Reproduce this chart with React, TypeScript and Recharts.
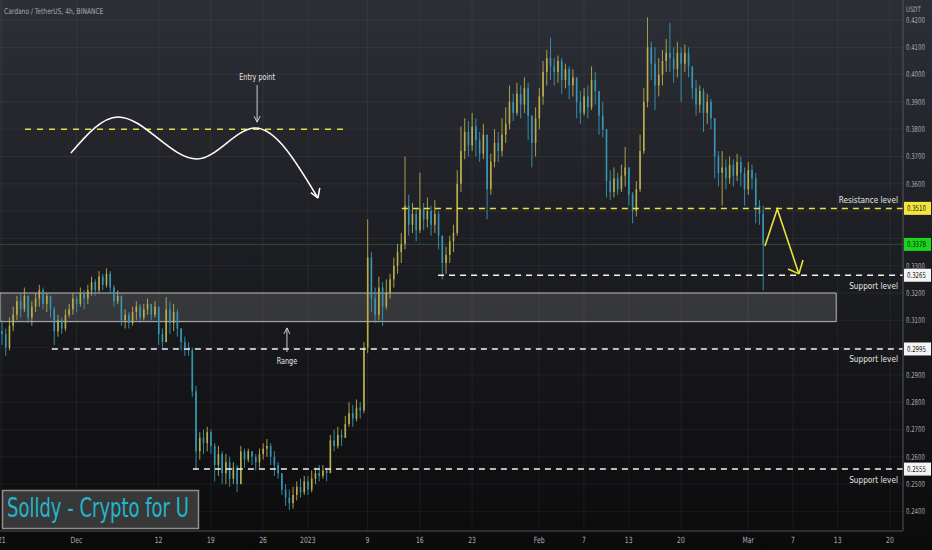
import React from "react";
import {
  ComposedChart,
  Bar,
  Line,
  XAxis,
  YAxis,
  CartesianGrid,
  ReferenceLine,
  ReferenceArea,
} from "recharts";

const W = 932;
const H = 550;
const FONT = "'DejaVu Sans Condensed', 'DejaVu Sans', sans-serif";
const UP = "#b9ad4c";
const DOWN = "#3896b5";
const YELLOW = "#e9e43a";
const MUTED = "#a6a9b0";

// ADA/USDT, one candle per 12h slot (slot 0 = 21 Nov)
const firstOpen = 0.306;
const closes = [
  0.305, 0.300, 0.308, 0.312, 0.317, 0.314, 0.319, 0.311, 0.315, 0.318,
  0.321, 0.316, 0.319, 0.314, 0.306, 0.310, 0.307, 0.312, 0.314, 0.318,
  0.316, 0.320, 0.318, 0.321, 0.324, 0.321, 0.326, 0.323, 0.327, 0.322,
  0.317, 0.319, 0.310, 0.312, 0.309, 0.313, 0.315, 0.311, 0.314, 0.316,
  0.312, 0.315, 0.305, 0.302, 0.314, 0.309, 0.313, 0.307, 0.302, 0.300,
  0.299, 0.284, 0.262, 0.267, 0.265, 0.269, 0.264, 0.257, 0.261, 0.254,
  0.258, 0.252, 0.256, 0.250, 0.262, 0.259, 0.262, 0.260, 0.258, 0.261,
  0.263, 0.264, 0.260, 0.257, 0.254, 0.248, 0.245, 0.243, 0.246, 0.249,
  0.247, 0.251, 0.248, 0.252, 0.254, 0.253, 0.255, 0.254, 0.266, 0.264,
  0.268, 0.267, 0.272, 0.276, 0.274, 0.278, 0.277, 0.300, 0.333, 0.318,
  0.312, 0.322, 0.315, 0.320, 0.325, 0.330, 0.335, 0.338, 0.352, 0.345,
  0.349, 0.343, 0.351, 0.347, 0.350, 0.345, 0.349, 0.341, 0.331, 0.334,
  0.339, 0.342, 0.360, 0.372, 0.379, 0.374, 0.381, 0.376, 0.371, 0.378,
  0.358, 0.368, 0.375, 0.372, 0.378, 0.382, 0.390, 0.386, 0.393, 0.389,
  0.395, 0.385, 0.375, 0.384, 0.392, 0.401, 0.406, 0.403, 0.401, 0.405,
  0.398, 0.402, 0.396, 0.399, 0.390, 0.386, 0.392, 0.388, 0.398, 0.394,
  0.385, 0.380, 0.361, 0.357, 0.362, 0.358, 0.363, 0.366, 0.356, 0.350,
  0.358, 0.372, 0.390, 0.410, 0.404, 0.396, 0.400, 0.405, 0.408, 0.406,
  0.402, 0.408, 0.404, 0.408, 0.403, 0.395, 0.389, 0.394, 0.386, 0.390,
  0.384, 0.370, 0.364, 0.366, 0.362, 0.367, 0.363, 0.368, 0.364, 0.358,
  0.365, 0.362, 0.352, 0.349, 0.3378,
];
const highs = [
  0.310, 0.307, 0.311, 0.315, 0.319, 0.320, 0.322, 0.318, 0.317, 0.320,
  0.323, 0.322, 0.320, 0.319, 0.315, 0.312, 0.311, 0.314, 0.316, 0.320,
  0.319, 0.322, 0.321, 0.323, 0.326, 0.325, 0.328, 0.327, 0.329, 0.328,
  0.323, 0.321, 0.318, 0.314, 0.313, 0.315, 0.317, 0.316, 0.316, 0.318,
  0.316, 0.317, 0.314, 0.307, 0.3185, 0.317, 0.316, 0.314, 0.307, 0.304,
  0.302, 0.300, 0.286, 0.269, 0.270, 0.271, 0.270, 0.265, 0.264, 0.262,
  0.261, 0.260, 0.258, 0.257, 0.264, 0.263, 0.263, 0.262, 0.261, 0.263,
  0.265, 0.2665, 0.265, 0.262, 0.258, 0.254, 0.250, 0.248, 0.249, 0.251,
  0.252, 0.253, 0.253, 0.255, 0.256, 0.257, 0.257, 0.256, 0.268, 0.270,
  0.271, 0.270, 0.275, 0.280, 0.279, 0.281, 0.280, 0.302, 0.347, 0.335,
  0.322, 0.326, 0.324, 0.325, 0.327, 0.333, 0.338, 0.342, 0.370, 0.356,
  0.353, 0.351, 0.364, 0.353, 0.355, 0.352, 0.354, 0.350, 0.341, 0.337,
  0.341, 0.345, 0.365, 0.381, 0.384, 0.383, 0.386, 0.384, 0.379, 0.382,
  0.375, 0.371, 0.380, 0.379, 0.384, 0.388, 0.396, 0.393, 0.397, 0.396,
  0.399, 0.397, 0.385, 0.388, 0.395, 0.405, 0.409, 0.4135, 0.406, 0.407,
  0.406, 0.404, 0.403, 0.402, 0.397, 0.394, 0.395, 0.396, 0.403, 0.401,
  0.392, 0.390, 0.380, 0.365, 0.366, 0.364, 0.367, 0.3735, 0.362, 0.357,
  0.361, 0.378, 0.395, 0.421, 0.412, 0.410, 0.406, 0.409, 0.413, 0.419,
  0.410, 0.412, 0.410, 0.411, 0.410, 0.402, 0.398, 0.396, 0.395, 0.393,
  0.391, 0.384, 0.372, 0.372, 0.369, 0.370, 0.369, 0.371, 0.370, 0.366,
  0.368, 0.367, 0.364, 0.354, 0.352,
];
const lows = [
  0.301, 0.297, 0.299, 0.306, 0.310, 0.311, 0.313, 0.309, 0.308, 0.313,
  0.315, 0.314, 0.313, 0.311, 0.301, 0.304, 0.305, 0.306, 0.311, 0.312,
  0.313, 0.315, 0.314, 0.316, 0.319, 0.319, 0.320, 0.321, 0.322, 0.320,
  0.315, 0.316, 0.308, 0.307, 0.307, 0.308, 0.310, 0.309, 0.310, 0.312,
  0.310, 0.311, 0.301, 0.300, 0.302, 0.305, 0.306, 0.304, 0.299, 0.297,
  0.297, 0.282, 0.2555, 0.259, 0.261, 0.262, 0.261, 0.251, 0.253, 0.250,
  0.250, 0.249, 0.250, 0.247, 0.252, 0.256, 0.258, 0.257, 0.255, 0.256,
  0.259, 0.260, 0.257, 0.253, 0.252, 0.246, 0.242, 0.2405, 0.241, 0.244,
  0.245, 0.246, 0.246, 0.247, 0.250, 0.251, 0.252, 0.251, 0.254, 0.262,
  0.263, 0.264, 0.267, 0.271, 0.271, 0.273, 0.274, 0.276, 0.298, 0.313,
  0.309, 0.310, 0.308, 0.314, 0.318, 0.322, 0.327, 0.331, 0.336, 0.341,
  0.342, 0.339, 0.342, 0.343, 0.344, 0.341, 0.342, 0.336, 0.325, 0.327,
  0.331, 0.335, 0.341, 0.357, 0.369, 0.370, 0.372, 0.370, 0.368, 0.369,
  0.347, 0.356, 0.366, 0.368, 0.370, 0.375, 0.380, 0.383, 0.385, 0.384,
  0.386, 0.376, 0.366, 0.370, 0.380, 0.389, 0.396, 0.398, 0.396, 0.397,
  0.393, 0.395, 0.391, 0.392, 0.384, 0.382, 0.385, 0.384, 0.387, 0.389,
  0.378, 0.377, 0.355, 0.354, 0.355, 0.356, 0.357, 0.359, 0.352, 0.3455,
  0.348, 0.357, 0.371, 0.388, 0.398, 0.387, 0.392, 0.396, 0.401, 0.401,
  0.397, 0.399, 0.390, 0.401, 0.399, 0.391, 0.385, 0.386, 0.379, 0.382,
  0.380, 0.362, 0.359, 0.352, 0.358, 0.360, 0.359, 0.361, 0.359, 0.352,
  0.356, 0.358, 0.3455, 0.345, 0.321,
];

// time axis: 242 half-day slots (21 Nov .. 22 Mar)
const slotCount = 242;
const tickSlots = [0, 20, 42, 56, 70, 82, 98, 112, 126, 144, 156, 168, 182, 200, 212, 224, 238];
const tickLabels = ["21", "Dec", "12", "19", "26", "2023", "9", "16", "23", "Feb", "7", "13", "20", "Mar", "7", "13", "20"];

const yMin = 0.23282;
const yMax = 0.42733;
// labelled prices (the ones hidden behind the level tags are left out)
const priceTicks = [0.24, 0.25, 0.26, 0.27, 0.28, 0.29, 0.31, 0.32, 0.33, 0.36, 0.37, 0.38, 0.39, 0.40, 0.41, 0.42];
const gridPrices = [0.24, 0.25, 0.26, 0.27, 0.28, 0.29, 0.30, 0.31, 0.32, 0.33, 0.34, 0.35, 0.36, 0.37, 0.38, 0.39, 0.40, 0.41, 0.42];

// drawn levels: price, slot where the line starts, caption
const levelPrices = [0.351, 0.3265, 0.2995, 0.2555];
const levelStarts = [107.2, 116.9, 13.4, 51.2];
const levelNames = ["Resistance level", "Support level", "Support level", "Support level"];
const lastPrice = 0.3378;

// range box
const rangeLow = 0.3095;
const rangeHigh = 0.32;
const rangeEnd = 223.6;

// hand drawn sketch (slot, price)
const entryLevel = 0.38;
const entrySpan = [6.2, 92];
const wavePoints = [
  { i: 18.5, v: 0.3713 },
  { i: 31.1, v: 0.3845 },
  { i: 52.3, v: 0.3691 },
  { i: 67.9, v: 0.3804 },
  { i: 84.7, v: 0.3548 },
];
const waveHead = [{ i: 82.8, v: 0.3568 }, { i: 85.2, v: 0.3585 }];
const zigzagPoints = [
  { i: 204.5, v: 0.3372 },
  { i: 207.8, v: 0.3508 },
  { i: 213.6, v: 0.327 },
];
const zigzagHead = [{ i: 210.7, v: 0.3288 }, { i: 214.7, v: 0.3321 }];
const entryArrow = { i: 68.4, from: 0.3962, to: 0.3826 };
const rangeArrow = { i: 76.4, from: 0.2984, to: 0.3072 };

const rows = Array.from({ length: slotCount }, (_, i) => {
  if (i >= closes.length) return { i };
  const o = i === 0 ? firstOpen : closes[i - 1];
  const c = closes[i];
  return { i, o, c, h: Math.max(highs[i], o, c), l: Math.min(lows[i], o, c) };
});

// text squeezed horizontally, the screenshot uses a narrow face
function Narrow({ x, y, sx, size, fill, anchor = "start", children }: any) {
  return (
    <text
      transform={`translate(${x},${y}) scale(${sx},1)`}
      textAnchor={anchor}
      fontSize={size}
      fill={fill}
      fontFamily={FONT}
    >
      {children}
    </text>
  );
}

function Candle(props: any) {
  const { x, y, width, height, payload } = props;
  if (!payload || payload.h == null) return null;
  const { o, c, h, l } = payload;
  const k = h > l ? height / (h - l) : 0;
  const cx = x + width / 2;
  const top = y + (h - Math.max(o, c)) * k;
  const bot = y + (h - Math.min(o, c)) * k;
  const color = c >= o ? UP : DOWN;
  return (
    <g>
      <line x1={cx} x2={cx} y1={y} y2={y + height} stroke={color} strokeWidth={0.9} />
      <rect x={cx - 0.8} y={top} width={1.6} height={Math.max(bot - top, 0.8)} fill={color} />
    </g>
  );
}

function XTick(p: any) {
  const label = tickLabels[tickSlots.indexOf(p.payload.value)] ?? "";
  return <Narrow x={p.x} y={p.y + 6.5} sx={0.8} size={8.5} fill={MUTED} anchor="middle">{label}</Narrow>;
}

function YTick(p: any) {
  return <Narrow x={p.x} y={p.y + 2.8} sx={0.75} size={8} fill={MUTED}>{Number(p.payload.value).toFixed(4)}</Narrow>;
}

function priceTag(value: number, bg: string, name?: string, above?: boolean) {
  return (p: any) => {
    const vb = p.viewBox;
    if (!vb) return null;
    const right = vb.x + vb.width;
    const y = vb.y;
    return (
      <g>
        {name && (
          <Narrow x={right - 5} y={above ? y - 5.5 : y + 13.5} sx={0.86} size={9.5} fill="#e6e6e6" anchor="end">
            {name}
          </Narrow>
        )}
        <rect x={right + 1} y={y - 6.5} width={27} height={13} fill={bg} />
        <Narrow x={right + 4} y={y + 3} sx={0.75} size={8} fill="#151515">{value.toFixed(4)}</Narrow>
      </g>
    );
  };
}

function arrowText(text: string, below: boolean) {
  return (p: any) => {
    const vb = p.viewBox;
    if (!vb) return null;
    return (
      <Narrow x={vb.x} y={below ? vb.y + vb.height + 12 : vb.y - 5} sx={0.8} size={9} fill="#e6e6e6" anchor="middle">
        {text}
      </Narrow>
    );
  };
}

export default function App() {
  return (
    <div
      style={{
        position: "absolute",
        left: 0,
        top: 0,
        width: W,
        height: H,
        overflow: "hidden",
        background: "linear-gradient(to bottom, #2d2f37 0%, #1d1e23 45%, #0c0c0d 97%, #0a0a0a 100%)",
      }}
    >
      <ComposedChart width={W} height={H} data={rows} margin={{ top: 0, right: 0, bottom: 0, left: 0 }}>
        <CartesianGrid stroke="rgba(255,255,255,0.055)" horizontalValues={gridPrices} />
        <XAxis
          dataKey="i"
          type="category"
          ticks={tickSlots}
          interval={0}
          height={19}
          tickSize={0}
          tickMargin={5}
          tick={XTick}
          axisLine={{ stroke: "#4e5056" }}
        />
        <XAxis xAxisId="n" dataKey="i" type="number" domain={[-0.5, slotCount - 0.5]} allowDataOverflow hide />
        <YAxis
          orientation="right"
          type="number"
          domain={[yMin, yMax]}
          allowDataOverflow
          ticks={priceTicks}
          width={29}
          tickSize={0}
          tickMargin={3}
          tick={YTick}
          axisLine={{ stroke: "#4e5056" }}
        />

        <ReferenceArea
          xAxisId="n"
          x1={-0.5}
          x2={rangeEnd}
          y1={rangeLow}
          y2={rangeHigh}
          fill="#ffffff"
          fillOpacity={0.13}
          stroke="#b9b9b9"
          strokeWidth={1}
        />

        <Bar dataKey={(d: any) => (d.h == null ? undefined : [d.l, d.h])} barSize={2} shape={Candle} isAnimationActive={false} />

        <ReferenceLine y={lastPrice} stroke="rgba(70,190,80,0.3)" strokeWidth={1} label={priceTag(lastPrice, "#19d61c")} />
        {levelPrices.map((p, n) => (
          <ReferenceLine
            key={n}
            xAxisId="n"
            segment={[{ x: levelStarts[n], y: p }, { x: slotCount - 0.5, y: p }]}
            stroke={n === 0 ? YELLOW : "#f2f2f2"}
            strokeWidth={1.5}
            strokeDasharray="6 5"
            label={priceTag(p, n === 0 ? "#f3e53c" : "#f4f4f4", levelNames[n], n === 0)}
          />
        ))}

        <ReferenceLine
          xAxisId="n"
          segment={[{ x: entrySpan[0], y: entryLevel }, { x: entrySpan[1], y: entryLevel }]}
          stroke="#dfe23a"
          strokeWidth={1.6}
          strokeDasharray="6 6"
        />

        <Line
          xAxisId="n"
          data={wavePoints}
          dataKey="v"
          type="monotone"
          stroke="#ffffff"
          strokeWidth={1.5}
          dot={false}
          activeDot={false}
          isAnimationActive={false}
        />
        {waveHead.map((pt, n) => (
          <ReferenceLine
            key={"wh" + n}
            xAxisId="n"
            segment={[{ x: pt.i, y: pt.v }, { x: wavePoints[4].i, y: wavePoints[4].v }]}
            stroke="#ffffff"
            strokeWidth={1.5}
          />
        ))}

        <Line
          xAxisId="n"
          data={zigzagPoints}
          dataKey="v"
          type="linear"
          stroke={YELLOW}
          strokeWidth={1.6}
          dot={false}
          activeDot={false}
          isAnimationActive={false}
        />
        {zigzagHead.map((pt, n) => (
          <ReferenceLine
            key={"zh" + n}
            xAxisId="n"
            segment={[{ x: pt.i, y: pt.v }, { x: zigzagPoints[2].i, y: zigzagPoints[2].v }]}
            stroke={YELLOW}
            strokeWidth={1.6}
          />
        ))}

        <ReferenceLine
          xAxisId="n"
          segment={[{ x: entryArrow.i, y: entryArrow.from }, { x: entryArrow.i, y: entryArrow.to }]}
          stroke="#e0e0e0"
          strokeWidth={0.9}
          label={arrowText("Entry point", false)}
        />
        <ReferenceLine xAxisId="n" segment={[{ x: entryArrow.i - 0.8, y: entryArrow.to + 0.0022 }, { x: entryArrow.i, y: entryArrow.to }]} stroke="#e0e0e0" strokeWidth={0.9} />
        <ReferenceLine xAxisId="n" segment={[{ x: entryArrow.i + 0.8, y: entryArrow.to + 0.0022 }, { x: entryArrow.i, y: entryArrow.to }]} stroke="#e0e0e0" strokeWidth={0.9} />

        <ReferenceLine
          xAxisId="n"
          segment={[{ x: rangeArrow.i, y: rangeArrow.from }, { x: rangeArrow.i, y: rangeArrow.to }]}
          stroke="#e0e0e0"
          strokeWidth={0.9}
          label={arrowText("Range", true)}
        />
        <ReferenceLine xAxisId="n" segment={[{ x: rangeArrow.i - 0.8, y: rangeArrow.to - 0.0022 }, { x: rangeArrow.i, y: rangeArrow.to }]} stroke="#e0e0e0" strokeWidth={0.9} />
        <ReferenceLine xAxisId="n" segment={[{ x: rangeArrow.i + 0.8, y: rangeArrow.to - 0.0022 }, { x: rangeArrow.i, y: rangeArrow.to }]} stroke="#e0e0e0" strokeWidth={0.9} />
      </ComposedChart>

      <svg style={{ position: "absolute", left: 0, top: 0, pointerEvents: "none" }} width={W} height={H}>
        <Narrow x={4} y={14} sx={0.83} size={8} fill={MUTED}>Cardano / TetherUS, 4h, BINANCE</Narrow>
        <Narrow x={906} y={12} sx={0.8} size={7.5} fill={MUTED}>USDT</Narrow>
        <rect x={2.5} y={490.5} width={196} height={38} fill="#3c3c3d" fillOpacity={0.92} stroke="#8e8e8e" strokeWidth={1.5} />
        <Narrow x={7} y={517} sx={0.77} size={26} fill="#22b7cb">Solldy - Crypto for U</Narrow>
      </svg>
    </div>
  );
}
